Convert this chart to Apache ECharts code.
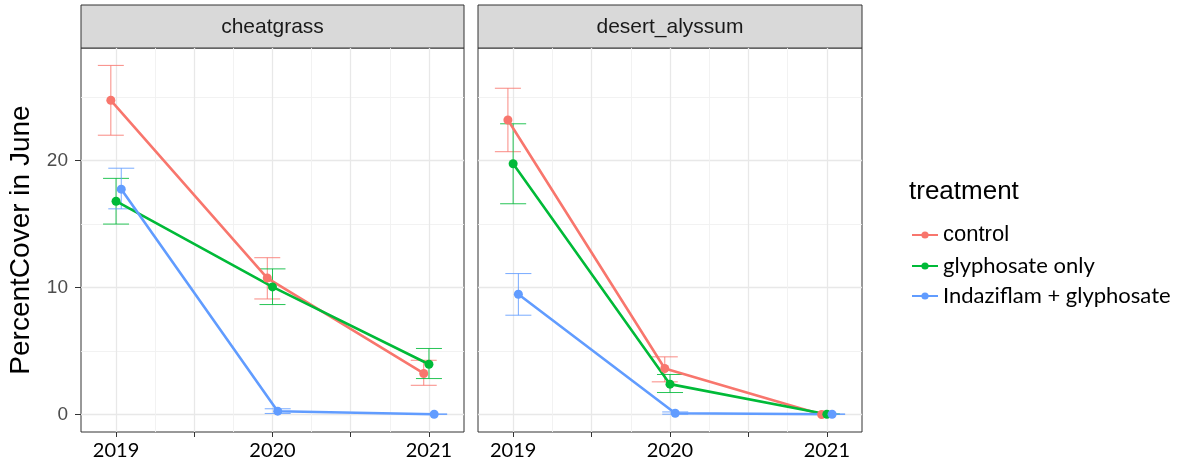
<!DOCTYPE html>
<html>
<head>
<meta charset="utf-8">
<script src="https://cdn.jsdelivr.net/npm/echarts@6/dist/echarts.min.js"></script>
<style>
html,body{margin:0;padding:0;background:#fff;}
#chart{width:1187px;height:467px;}
</style>
</head>
<body>
<div id="chart"></div>
<script>
// ---- data ----
const years = [2019, 2020, 2021];
const treatments = ['control', 'glyphosate only', 'Indaziflam + glyphosate'];
const panels = ['cheatgrass', 'desert_alyssum'];
const xTickValues = [2019, 2019.5, 2020, 2020.5, 2021];
const xLabelValues = [2019, 2020, 2021];
const xMinorValues = [2019.25, 2019.75, 2020.25, 2020.75];
const yTickValues = [0, 10, 20];
const yMinorValues = [5, 15, 25];

// cheatgrass
const cheatControl      = [24.75, 10.75, 3.23];
const cheatControlLo    = [22.0, 9.1, 2.3];
const cheatControlHi    = [27.5, 12.35, 4.27];
const cheatGlyph        = [16.8, 10.05, 3.96];
const cheatGlyphLo      = [15.0, 8.66, 2.83];
const cheatGlyphHi      = [18.6, 11.47, 5.2];
const cheatIndaz        = [17.75, 0.26, 0.02];
const cheatIndazLo      = [16.2, 0.08, 0.0];
const cheatIndazHi      = [19.4, 0.45, 0.05];
// desert_alyssum
const alyControl        = [23.2, 3.62, 0.0];
const alyControlLo      = [20.7, 2.57, 0.0];
const alyControlHi      = [25.7, 4.54, 0.03];
const alyGlyph          = [19.75, 2.39, 0.02];
const alyGlyphLo        = [16.6, 1.73, 0.0];
const alyGlyphHi        = [22.9, 3.15, 0.05];
const alyIndaz          = [9.47, 0.1, 0.02];
const alyIndazLo        = [7.82, 0.02, 0.0];
const alyIndazHi        = [11.1, 0.2, 0.05];

const panelData = [
  [[cheatControl, cheatControlLo, cheatControlHi], [cheatGlyph, cheatGlyphLo, cheatGlyphHi], [cheatIndaz, cheatIndazLo, cheatIndazHi]],
  [[alyControl, alyControlLo, alyControlHi], [alyGlyph, alyGlyphLo, alyGlyphHi], [alyIndaz, alyIndazLo, alyIndazHi]]
];

// ---- styling ----
const colors = ['#F8766D', '#00BA38', '#619CFF'];
const DODGE = 0.1;          // position_dodge width (years)
const CAP_HALF = 0.083;     // errorbar half-width (years)
const X_MIN = 2018.776, X_MAX = 2021.224;
const Y_MIN = -1.38, Y_MAX = 28.87;
const SANS = 'Liberation Sans, Arial, Helvetica, sans-serif';
const ALT = 'Lato, Liberation Sans, sans-serif';

const grids = [
  {left: 81, top: 48, width: 383, height: 384},
  {left: 478, top: 48, width: 384, height: 384}
];

const xAxes = [], yAxes = [];
grids.forEach((g, p) => {
  xAxes.push({
    type: 'value', gridIndex: p, min: X_MIN, max: X_MAX, position: 'bottom',
    axisLine: {show: false, onZero: false},
    axisTick: {show: true, length: 5, lineStyle: {color: '#333', width: 1}, customValues: xTickValues},
    axisLabel: {show: true, customValues: xLabelValues, formatter: v => String(Math.round(v)),
      fontFamily: ALT, fontSize: 20, color: '#000', margin: 9},
    splitLine: {show: true, lineStyle: {color: '#e8e8e8', width: 1.3}}
  });
  xAxes.push({
    type: 'value', gridIndex: p, min: X_MIN, max: X_MAX, position: 'top',
    axisLine: {show: false, onZero: false},
    axisTick: {show: false, customValues: xMinorValues},
    axisLabel: {show: false},
    splitLine: {show: true, lineStyle: {color: '#f1f1f1', width: 0.9}}
  });
  yAxes.push({
    type: 'value', gridIndex: p, min: Y_MIN, max: Y_MAX, position: 'left',
    axisLine: {show: false, onZero: false},
    axisTick: {show: p === 0, length: 6, lineStyle: {color: '#333', width: 1}, customValues: yTickValues},
    axisLabel: {show: p === 0, customValues: yTickValues, formatter: v => String(Math.round(v)),
      fontFamily: SANS, fontSize: 19, color: '#4d4d4d', margin: 13},
    splitLine: {show: true, lineStyle: {color: '#e8e8e8', width: 1.3}},
    name: p === 0 ? 'PercentCover in June' : '',
    nameLocation: 'middle', nameGap: 46,
    nameTextStyle: {fontFamily: SANS, fontSize: 28, color: '#000'}
  });
  yAxes.push({
    type: 'value', gridIndex: p, min: Y_MIN, max: Y_MAX, position: 'right',
    axisLine: {show: false, onZero: false},
    axisTick: {show: false, customValues: yMinorValues},
    axisLabel: {show: false},
    splitLine: {show: true, lineStyle: {color: '#f1f1f1', width: 0.9}}
  });
});

const series = [];
panels.forEach((pn, p) => {
  treatments.forEach((tr, t) => {
    const [mean, lo, hi] = panelData[p][t];
    const off = (t - 1) * DODGE / 3;
    series.push({
      type: 'custom', name: tr + ' (se)', xAxisIndex: p * 2, yAxisIndex: p * 2,
      data: years.map((y, i) => [y + off, lo[i], hi[i]]),
      renderItem: (params, api) => {
        const x = api.value(0), l = api.value(1), h = api.value(2);
        const top = api.coord([x, h]), bot = api.coord([x, l]);
        const tl = api.coord([x - CAP_HALF, h]), tr2 = api.coord([x + CAP_HALF, h]);
        const bl = api.coord([x - CAP_HALF, l]), br = api.coord([x + CAP_HALF, l]);
        const st = {stroke: colors[t], lineWidth: 1, opacity: 0.85};
        return {type: 'group', children: [
          {type: 'line', shape: {x1: top[0], y1: top[1], x2: bot[0], y2: bot[1]}, style: st},
          {type: 'line', shape: {x1: tl[0], y1: tl[1], x2: tr2[0], y2: tr2[1]}, style: st},
          {type: 'line', shape: {x1: bl[0], y1: bl[1], x2: br[0], y2: br[1]}, style: st}
        ]};
      },
      z: 2, silent: true
    });
    series.push({
      type: 'line', name: tr, xAxisIndex: p * 2, yAxisIndex: p * 2,
      data: years.map((y, i) => [y + off, mean[i]]),
      symbol: 'circle', symbolSize: 9, showSymbol: true,
      itemStyle: {color: colors[t]},
      lineStyle: {color: colors[t], width: 2.6},
      z: 3, animation: false
    });
  });
});

const legendTops = [219, 250, 280];
const legendFonts = [SANS, ALT, ALT];
const legendPad = [[2, 0, 0, 0], [14, 0, 0, 0], [10, 0, 0, 0]];
const legends = treatments.map((tr, t) => ({
  data: [tr], left: 906, top: legendTops[t], orient: 'vertical',
  itemWidth: 26, itemHeight: 9, itemGap: 0, selectedMode: false,
  textStyle: {fontFamily: legendFonts[t], fontSize: 22, color: '#000', padding: legendPad[t]}
}));

const option = {
  backgroundColor: '#fff',
  animation: false,
  grid: grids.map(g => Object.assign({show: true, borderColor: '#333', borderWidth: 1, backgroundColor: '#fff', containLabel: false}, g)),
  xAxis: xAxes,
  yAxis: yAxes,
  title: {text: 'treatment', left: 904, top: 174, textStyle: {fontFamily: SANS, fontSize: 26, fontWeight: 'normal', color: '#000'}},
  legend: legends,
  graphic: grids.map((g, p) => ({
    type: 'group', children: [
      {type: 'rect', shape: {x: g.left, y: 5, width: g.width, height: g.top - 5},
        style: {fill: '#d9d9d9', stroke: '#333', lineWidth: 1}},
      {type: 'text', x: g.left + g.width / 2, y: 27,
        style: {text: panels[p], fontFamily: SANS, fontSize: 21, fill: '#1a1a1a', align: 'center', verticalAlign: 'middle'}}
    ]
  })),
  series: series
};

const chart = echarts.init(document.getElementById('chart'), null, {renderer: 'canvas'});
chart.setOption(option);
</script>
</body>
</html>
